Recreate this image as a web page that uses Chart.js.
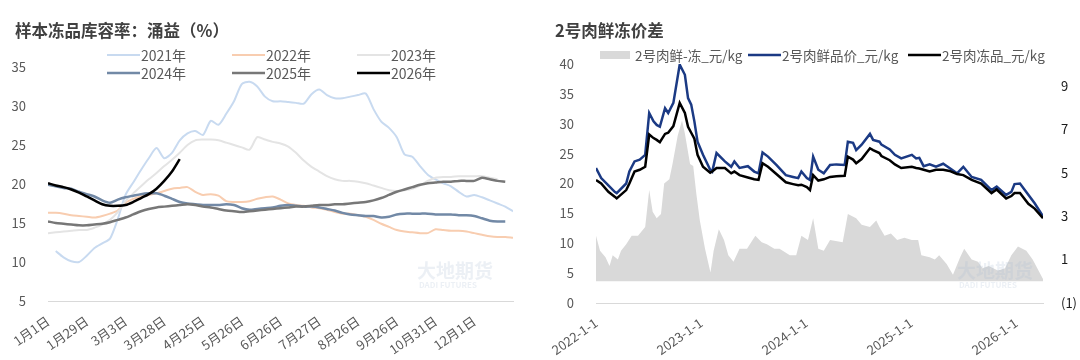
<!DOCTYPE html>
<html>
<head>
<meta charset="utf-8">
<script src="https://cdn.jsdelivr.net/npm/chart.js@4.4.1/dist/chart.umd.min.js"></script>
<style>
    html, body { margin: 0; padding: 0; background: #ffffff; }
    .wrap { display: flex; width: 1080px; height: 360px; }
    canvas { display: block; }
</style>
</head>
<body>
<div class="wrap">
    <canvas id="coldStorageChart" width="540" height="360"></canvas>
    <canvas id="freshFrozenChart" width="540" height="360"></canvas>
</div>
<script>
// ---------- left chart: 样本冻品库容率 (weekly index, one line per year) ----------
const weekTickIndex = [0, 5, 10, 15, 20, 25, 30, 35, 40, 45, 50, 55];
const weekTickLabels = ['1月1日', '1月29日', '3月3日', '3月28日', '4月25日', '5月26日',
    '6月26日', '7月27日', '8月26日', '9月26日', '10月31日', '12月1日'];

const rate2021 = [null, 11.4, 10.6, 10.1, 10.0, 10.8, 11.8, 12.4, 13.0, 15.5,
    18.6, 20.2, 21.8, 23.3, 24.6, 23.3, 24.0, 25.6, 26.5, 26.8,
    26.3, 28.1, 27.6, 29.0, 30.6, 32.8, 33.1, 32.5, 31.2, 30.6,
    30.6, 30.5, 30.4, 30.3, 31.5, 32.1, 31.4, 31.0, 31.0, 31.2,
    31.4, 31.6, 29.6, 28.0, 27.2, 26.0, 23.8, 23.5, 22.3, 21.2,
    20.6, 20.1, 19.7, 19.0, 18.4, 18.6, 18.3, 17.9, 17.5, 17.1, 16.5];
const rate2022 = [16.3, 16.3, 16.2, 16.0, 15.9, 15.8, 15.7, 15.9, 16.2, 16.6,
    17.6, 18.1, 18.4, 18.6, 18.8, 19.1, 19.4, 19.5, 19.6, 19.0,
    18.6, 18.7, 18.5, 17.8, 17.7, 17.7, 17.8, 18.1, 18.3, 18.4,
    18.0, 17.5, 17.3, 17.2, 17.0, 16.9, 16.7, 16.4, 16.2, 16.2,
    16.0, 15.8, 15.4, 14.9, 14.5, 14.1, 13.9, 13.8, 13.7, 13.7,
    14.2, 14.1, 14.0, 14.0, 13.9, 13.7, 13.5, 13.3, 13.2, 13.2, 13.1];
const rate2023 = [13.7, 13.8, 13.9, 14.0, 14.1, 14.1, 14.4, 14.8, 15.4, 16.4,
    17.8, 18.8, 19.7, 20.6, 21.4, 22.3, 23.1, 24.0, 25.0, 25.6,
    25.7, 25.7, 25.6, 25.3, 25.0, 24.7, 24.4, 26.0, 25.7, 25.4,
    25.2, 24.8, 24.0, 23.0, 22.2, 21.6, 21.0, 20.6, 20.4, 20.4,
    20.3, 20.1, 19.8, 19.5, 19.2, 19.1, 19.2, 19.4, 19.8, 20.4,
    20.8, 20.9, 20.9, 21.0, 21.0, 21.0, 21.0, 20.8, 20.6];
const rate2024 = [19.9, 19.7, 19.5, 19.4, 19.0, 18.7, 18.4, 17.9, 17.6, 18.0,
    18.3, 18.5, 18.7, 18.8, 18.8, 18.5, 18.1, 17.7, 17.5, 17.4,
    17.3, 17.3, 17.3, 17.4, 17.3, 16.9, 16.7, 16.8, 16.9, 17.0,
    17.2, 17.3, 17.2, 17.1, 17.1, 17.0, 16.8, 16.6, 16.3, 16.1,
    16.0, 15.9, 15.9, 15.7, 15.8, 16.1, 16.2, 16.2, 16.2, 16.2,
    16.1, 16.1, 16.1, 16.0, 16.0, 15.9, 15.6, 15.3, 15.2, 15.2];
const rate2025 = [15.2, 15.0, 14.9, 14.8, 14.7, 14.7, 14.8, 14.9, 15.1, 15.4,
    15.7, 16.1, 16.5, 16.8, 17.0, 17.1, 17.2, 17.3, 17.4, 17.3,
    17.1, 17.0, 16.8, 16.6, 16.5, 16.4, 16.5, 16.6, 16.7, 16.8,
    16.9, 17.0, 17.1, 17.1, 17.2, 17.3, 17.3, 17.4, 17.4, 17.5,
    17.6, 17.7, 17.9, 18.2, 18.6, 19.0, 19.3, 19.6, 19.9, 20.1,
    20.2, 20.3, 20.3, 20.4, 20.4, 20.4, 20.8, 20.6, 20.4, 20.3];
const rate2026 = [20.1, 19.8, 19.6, 19.3, 18.9, 18.4, 17.9, 17.4, 17.2, 17.2,
    17.3, 17.7, 18.2, 18.7, 19.4, 20.4, 21.6, 23.2];

// ---------- right chart: 2号肉鲜冻价差 ----------
const priceDates = ['2022-01-01', '2022-01-19', '2022-02-13', '2022-03-07', '2022-03-14', '2022-04-16',
    '2022-04-27', '2022-05-15', '2022-06-02', '2022-06-21', '2022-07-05', '2022-07-20', '2022-07-31',
    '2022-08-11', '2022-08-29', '2022-09-09', '2022-09-27', '2022-10-19', '2022-11-06', '2022-11-17',
    '2022-11-28', '2022-12-09', '2022-12-20', '2023-01-08', '2023-02-02', '2023-02-09', '2023-02-24',
    '2023-03-25', '2023-04-16', '2023-04-27', '2023-05-15', '2023-06-13', '2023-07-05', '2023-07-20',
    '2023-08-03', '2023-08-22', '2023-09-20', '2023-10-23', '2023-11-17', '2023-12-05', '2023-12-16',
    '2024-01-04', '2024-01-15', '2024-01-26', '2024-02-13', '2024-03-03', '2024-03-25', '2024-04-16',
    '2024-05-15', '2024-05-26', '2024-06-13', '2024-06-24', '2024-07-13', '2024-08-11', '2024-08-22',
    '2024-09-13', '2024-09-20', '2024-10-19', '2024-11-06', '2024-11-28', '2025-01-04', '2025-01-19',
    '2025-01-30', '2025-02-14', '2025-03-07', '2025-03-29', '2025-04-23', '2025-05-15', '2025-06-10',
    '2025-07-02', '2025-07-31', '2025-09-02', '2025-10-08', '2025-10-26', '2025-11-28', '2025-12-16',
    '2025-12-27', '2026-01-15', '2026-02-13', '2026-03-07', '2026-04-05'];
const freshPrice = [22.6, 20.9, 19.7, 18.6, 18.4, 20.0,
    22.0, 23.7, 24.0, 24.8, 31.8, 30.4, 29.8,
    29.5, 32.6, 31.8, 33.5, 39.9, 38.2, 34.3,
    33.2, 30.4, 27.0, 24.8, 22.3, 22.0, 25.1,
    23.7, 22.8, 23.7, 22.6, 22.9, 22.0, 21.7,
    25.2, 24.5, 23.1, 21.4, 21.1, 20.9, 22.0,
    20.9, 20.6, 24.5, 22.3, 21.7, 23.1, 23.2,
    23.1, 27.0, 26.8, 25.6, 26.5, 28.3, 27.3,
    27.0, 26.5, 25.7, 24.8, 24.2, 24.8, 24.2,
    24.3, 22.9, 23.2, 22.8, 23.3, 22.6, 21.7,
    22.8, 21.1, 20.6, 18.9, 19.5, 18.1, 18.6,
    19.9, 20.0, 18.1, 16.7, 14.5];
const frozenPrice = [20.6, 20.0, 18.6, 17.8, 17.5, 18.9,
    20.0, 22.0, 22.3, 22.8, 28.2, 27.6, 27.3,
    26.9, 28.3, 28.5, 29.6, 33.5, 31.8, 29.5,
    28.5, 27.5, 24.8, 22.8, 21.8, 22.0, 22.6,
    22.6, 21.7, 22.0, 21.4, 21.0, 20.7, 20.6,
    23.4, 22.8, 21.6, 20.2, 19.9, 19.7, 19.8,
    19.4, 18.9, 21.4, 20.5, 20.7, 21.1, 21.2,
    21.3, 24.5, 24.0, 23.4, 24.1, 25.9, 25.6,
    25.1, 24.6, 23.9, 23.2, 22.6, 22.8, 22.6,
    22.5, 22.3, 22.0, 22.3, 22.3, 22.1, 21.6,
    21.4, 20.6, 20.0, 18.4, 19.0, 17.5, 17.9,
    18.4, 18.4, 16.6, 15.8, 14.2];

const spreadDates = ['2022-01-01', '2022-01-15', '2022-02-03', '2022-02-17', '2022-02-28', '2022-03-18',
    '2022-03-29', '2022-04-16', '2022-05-05', '2022-05-27', '2022-06-21', '2022-07-05', '2022-07-17',
    '2022-07-31', '2022-08-15', '2022-08-26', '2022-09-13', '2022-09-24', '2022-10-12', '2022-10-27',
    '2022-11-06', '2022-11-24', '2022-12-05', '2022-12-16', '2022-12-28', '2023-01-15', '2023-02-03',
    '2023-02-14', '2023-03-04', '2023-03-22', '2023-04-06', '2023-04-24', '2023-05-15', '2023-06-10',
    '2023-07-09', '2023-07-31', '2023-08-18', '2023-09-13', '2023-10-01', '2023-11-06', '2023-11-28',
    '2023-12-16', '2024-01-08', '2024-01-26', '2024-02-13', '2024-03-03', '2024-03-25', '2024-05-08',
    '2024-05-26', '2024-06-24', '2024-07-13', '2024-08-11', '2024-09-02', '2024-09-13', '2024-10-01',
    '2024-10-23', '2024-11-14', '2024-12-09', '2025-01-04', '2025-01-26', '2025-02-06', '2025-03-07',
    '2025-03-25', '2025-04-09', '2025-05-05', '2025-05-27', '2025-06-21', '2025-07-05', '2025-07-31',
    '2025-08-22', '2025-09-06', '2025-09-28', '2025-10-30', '2025-11-24', '2025-12-16', '2026-01-08',
    '2026-02-06', '2026-02-28', '2026-04-05'];
const freshFrozenSpread = [2.1, 1.4, 1.1, 0.7, 1.2, 1.0,
    1.4, 1.7, 2.1, 2.1, 2.5, 4.2, 3.2,
    2.9, 3.1, 4.5, 4.7, 5.4, 6.7, 7.4,
    6.8, 5.4, 5.3, 4.0, 2.8, 1.5, 0.4,
    1.4, 2.4, 1.9, 1.2, 0.9, 1.5, 1.5,
    2.1, 1.8, 1.7, 1.5, 1.5, 1.2, 1.2,
    2.1, 1.9, 2.9, 1.5, 1.4, 1.9, 1.8,
    3.1, 2.9, 2.6, 2.5, 2.8, 2.5, 2.1,
    2.2, 1.9, 2.0, 1.9, 1.9, 1.2, 1.1,
    1.0, 1.2, 0.8, 0.3, 1.1, 1.5, 1.0,
    0.9, 0.6, 0.7, 0.5, 0.6, 1.2, 1.6,
    1.4, 1.0, 0.1];

const yearTickLabels = ['2022-1-1', '2023-1-1', '2024-1-1', '2025-1-1', '2026-1-1'];
const spreadTickValues = [-1, 1, 3, 5, 7, 9];

// ---------- helpers ----------
const FONT = '"Noto Sans CJK SC", "Noto Sans", sans-serif';
const TEXT_GREY = '#595959';

function toYear(s) {
    const [y, m, d] = s.split('-').map(Number);
    const start = Date.UTC(y, 0, 1);
    return y + (Date.UTC(y, m - 1, d) - start) / (Date.UTC(y + 1, 0, 1) - start);
}

function indexed(values) {
    return values.map((v, i) => ({ x: i, y: v }));
}

function dated(dates, values) {
    return dates.map((d, i) => ({ x: toYear(d), y: values[i] }));
}

// Title, hand placed legend and faint watermark drawn straight on the canvas
const decorPlugin = {
    id: 'decor',
    afterDatasetsDraw(chart) {
        const ctx = chart.ctx;
        ctx.save();
        ctx.fillStyle = 'rgba(170, 185, 210, 0.22)';
        ctx.textBaseline = 'middle';
        ctx.font = 'bold 19px ' + FONT;
        ctx.fillText('大地期货', 417, 271);
        ctx.font = 'bold 8px ' + FONT;
        ctx.fillText('DADI FUTURES', 419, 285);
        ctx.restore();
    },
    afterDraw(chart, args, opts) {
        const ctx = chart.ctx;
        ctx.save();
        ctx.fillStyle = '#404040';
        ctx.font = 'bold 16.5px ' + FONT;
        ctx.textBaseline = 'middle';
        ctx.fillText(opts.title, 15, 31);

        ctx.font = opts.legendFont + 'px ' + FONT;
        chart.data.datasets.forEach((ds, i) => {
            const [x, y] = opts.slots[i];
            if (ds.fill) {
                ctx.fillStyle = ds.backgroundColor;
                ctx.fillRect(x, y - 4, 30, 8);
            } else {
                ctx.strokeStyle = ds.borderColor;
                ctx.lineWidth = ds.borderWidth;
                ctx.beginPath();
                ctx.moveTo(x, y);
                ctx.lineTo(x + 33, y);
                ctx.stroke();
            }
            ctx.fillStyle = TEXT_GREY;
            ctx.fillText(ds.label, x + (ds.fill ? 35 : 34), y + 1);
        });
        ctx.restore();
    }
};

function lineSet(label, data, color, width, order) {
    return {
        label: label,
        data: data,
        borderColor: color,
        backgroundColor: color,
        borderWidth: width,
        pointRadius: 0,
        tension: 0.25,
        fill: false,
        order: order
    };
}

// ---------- left chart ----------
new Chart(document.getElementById('coldStorageChart').getContext('2d'), {
    type: 'line',
    data: {
        datasets: [
            lineSet('2021年', indexed(rate2021), '#c8daf0', 2, 6),
            lineSet('2022年', indexed(rate2022), '#f8cdb0', 2, 5),
            lineSet('2023年', indexed(rate2023), '#e4e4e4', 2, 4),
            lineSet('2024年', indexed(rate2024), '#7289a6', 2.5, 3),
            lineSet('2025年', indexed(rate2025), '#777777', 2.5, 2),
            lineSet('2026年', indexed(rate2026), '#000000', 2.5, 1)
        ]
    },
    plugins: [decorPlugin],
    options: {
        responsive: false,
        animation: false,
        layout: { padding: { top: 67, right: 27, left: 0, bottom: 0 } },
        plugins: {
            legend: { display: false },
            tooltip: { enabled: false },
            decor: {
                title: '样本冻品库容率：涌益（%）',
                legendFont: 14,
                slots: [[107, 55], [232, 55], [357, 55], [107, 73], [232, 73], [357, 73]]
            }
        },
        scales: {
            x: {
                type: 'linear',
                min: 0,
                max: 60,
                afterBuildTicks: scale => {
                    scale.ticks = weekTickIndex.map(v => ({ value: v }));
                },
                afterFit: scale => { scale.height = 59; },
                ticks: {
                    autoSkip: false,
                    minRotation: 35,
                    maxRotation: 35,
                    padding: 4,
                    color: TEXT_GREY,
                    font: { family: FONT, size: 13 },
                    callback: (value, index) => weekTickLabels[index]
                },
                grid: { display: false },
                border: { display: true, color: '#d9d9d9', width: 1 }
            },
            y: {
                min: 5,
                max: 35,
                afterFit: scale => { scale.width = 48; },
                ticks: {
                    stepSize: 5,
                    padding: 14,
                    color: TEXT_GREY,
                    font: { family: FONT, size: 13 }
                },
                grid: { display: false },
                border: { display: false }
            }
        }
    }
});

// ---------- right chart ----------
new Chart(document.getElementById('freshFrozenChart').getContext('2d'), {
    type: 'line',
    data: {
        datasets: [
            {
                label: '2号肉鲜-冻_元/kg',
                data: dated(spreadDates, freshFrozenSpread),
                yAxisID: 'y1',
                borderWidth: 0,
                borderColor: '#d9d9d9',
                backgroundColor: '#d9d9d9',
                pointRadius: 0,
                tension: 0,
                fill: 'origin',
                order: 3
            },
            Object.assign(lineSet('2号肉鲜品价_元/kg', dated(priceDates, freshPrice), '#1b3a84', 2.5, 2), { tension: 0 }),
            Object.assign(lineSet('2号肉冻品_元/kg', dated(priceDates, frozenPrice), '#000000', 2.5, 1), { tension: 0 })
        ]
    },
    plugins: [decorPlugin],
    options: {
        responsive: false,
        animation: false,
        layout: { padding: { top: 64, right: 0, left: 0, bottom: 0 } },
        plugins: {
            legend: { display: false },
            tooltip: { enabled: false },
            decor: {
                title: '2号肉鲜冻价差',
                legendFont: 13.5,
                slots: [[60, 55], [208, 55], [368, 55]]
            }
        },
        scales: {
            x: {
                type: 'linear',
                min: toYear(priceDates[0]),
                max: toYear(priceDates[priceDates.length - 1]),
                afterBuildTicks: scale => {
                    scale.ticks = yearTickLabels.map(s => ({ value: toYear(s) }));
                },
                afterFit: scale => { scale.height = 57; },
                ticks: {
                    autoSkip: false,
                    minRotation: 35,
                    maxRotation: 35,
                    padding: 4,
                    color: TEXT_GREY,
                    font: { family: FONT, size: 13 },
                    callback: (value, index) => yearTickLabels[index]
                },
                grid: { display: false },
                border: { display: true, color: '#d9d9d9', width: 1 }
            },
            y: {
                min: 0,
                max: 40,
                afterFit: scale => { scale.width = 56; },
                ticks: {
                    stepSize: 5,
                    padding: 14,
                    color: TEXT_GREY,
                    font: { family: FONT, size: 13 }
                },
                grid: { display: false },
                border: { display: false }
            },
            y1: {
                position: 'right',
                min: -1,
                max: 10,
                afterBuildTicks: scale => {
                    scale.ticks = spreadTickValues.map(v => ({ value: v }));
                },
                afterFit: scale => { scale.width = 37; },
                ticks: {
                    padding: 10,
                    color: '#1a1a1a',
                    font: { family: FONT, size: 13 },
                    callback: value => value < 0 ? '(' + Math.abs(value) + ')' : String(value)
                },
                grid: { display: false },
                border: { display: false }
            }
        }
    }
});
</script>
</body>
</html>
